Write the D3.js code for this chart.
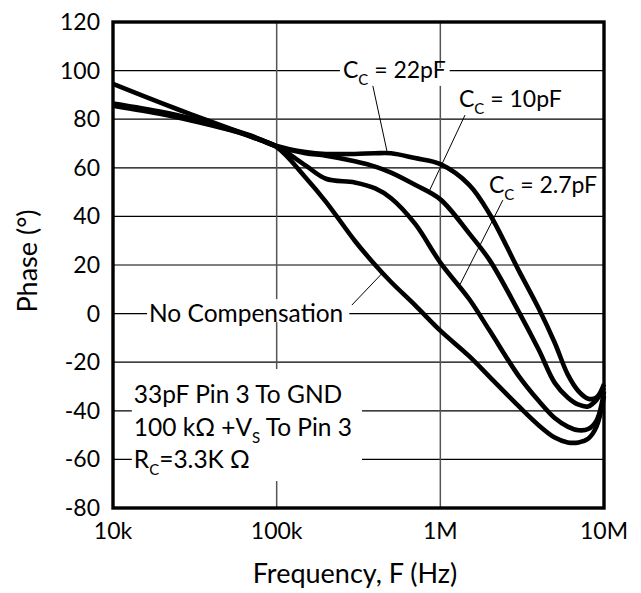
<!DOCTYPE html>
<html>
<head>
<meta charset="utf-8">
<script src="https://cdn.jsdelivr.net/npm/d3@7"></script>
<style>
body { margin: 0; background: #fff; }
svg text { font-family: Lato, "Open Sans", sans-serif; fill: #000; }
</style>
</head>
<body>
<svg id="chart" width="641" height="593"></svg>
<script>
// phase values, one entry per frequency
var frequencies = [1e4, 2e4, 3e4, 5e4, 7e4, 1e5, 1.5e5, 2e5, 3e5, 4e5, 5e5, 7e5, 1e6, 1.5e6, 2e6, 3e6, 4e6, 5e6, 6e6, 7e6, 8e6, 9e6, 1e7];
var phaseNoComp = [94.5, 86.5, 82, 76.5, 72.7, 68.5, 56, 46, 30, 20, 13, 3.5, -7, -17.5, -26, -38, -46, -51, -53, -53, -51.5, -46.5, -34];
var phaseCc2p7 = [85.5, 82, 79.5, 75.8, 72.8, 68.8, 61, 55.5, 54, 51.5, 47.5, 37, 21, 6, -7, -25.5, -36, -43, -46.5, -48, -47.5, -44, -32];
var phaseCc10 = [86, 82.5, 80, 76, 73, 68.8, 66, 65, 62.7, 60.5, 58, 53, 47, 33, 22, 1, -15, -28.5, -34.5, -37.5, -38.2, -35.5, -30.5];
var phaseCc22 = [86.5, 83, 80.3, 76.3, 73.2, 69, 66.5, 65.7, 65.7, 66, 66, 64, 61.5, 53, 41, 18, 2, -12, -25, -32, -35, -34.5, -29];

var xTickValues = [1e4, 1e5, 1e6, 1e7];
var xTickLabels = ["10k", "100k", "1M", "10M"];
var yTickValues = [-80, -60, -40, -20, 0, 20, 40, 60, 80, 100, 120];

var series = [phaseNoComp, phaseCc2p7, phaseCc10, phaseCc22];

// callout labels: text parts (sub = subscript), anchor and leader in data units
var callouts = [
    {parts: [["C"], ["C", "sub"], [" = 22pF"]], at: [2.54e5, 97], leader: [[3.87e5, 93.7], [4.75e5, 66]], box: [-13, 4, -2, 3], size: 23},
    {parts: [["C"], ["C", "sub"], [" = 10pF"]], at: [1.30e6, 85], leader: [[1.415e6, 81.7], [8.5e5, 50]], size: 23},
    {parts: [["C"], ["C", "sub"], [" = 2.7pF"]], at: [1.98e6, 49.6], leader: [[2.41e6, 46.7], [1.32e6, 12]], size: 23},
    {parts: [["No Compensation"]], at: [1.66e4, -3.5], leader: [[2.88e5, 3.5], [4.4e5, 16.5]], box: [-1, 6, -5, 2], size: 24.5}
];
var noteLines = [
    [["33pF Pin 3 To GND"]],
    [["100 k\u03A9 +V"], ["S", "sub"], [" To Pin 3"]],
    [["R"], ["C", "sub"], ["=3.3K \u03A9"]]
];
var noteAt = [1.34e4, -36.8];

var svg = d3.select("#chart");
var width = 641, height = 593;
const margins = {top: 22, right: 37, bottom: 85, left: 113};

var x = d3.scaleLog().domain([1e4, 1e7]).range([margins.left, width - margins.right]);
var y = d3.scaleLinear().domain([-80, 120]).range([height - margins.bottom, margins.top]);

var gridG = svg.append("g");
var boxG = svg.append("g");
var curveG = svg.append("g");
var leaderG = svg.append("g");
var textG = svg.append("g");
var frameG = svg.append("g");

// grid
gridG.selectAll("line.h")
    .data(yTickValues.slice(1, -1)).enter()
    .append("line").attr("class", "h")
    .attr("x1", margins.left).attr("x2", width - margins.right)
    .attr("y1", d => y(d)).attr("y2", d => y(d))
    .attr("stroke", "#000").attr("stroke-width", 1.2);
gridG.selectAll("line.v")
    .data(xTickValues.slice(1, -1)).enter()
    .append("line").attr("class", "v")
    .attr("y1", margins.top).attr("y2", height - margins.bottom)
    .attr("x1", d => x(d)).attr("x2", d => x(d))
    .attr("stroke", "#555").attr("stroke-width", 1.5);

// curves
var line = d3.line()
    .x((d, i) => x(frequencies[i]))
    .y(d => y(d))
    .curve(d3.curveCatmullRom.alpha(0.5));
curveG.selectAll("path")
    .data(series).enter()
    .append("path")
    .attr("fill", "none")
    .attr("stroke", "#000")
    .attr("stroke-width", 4.6)
    .attr("stroke-linejoin", "round")
    .attr("d", d => line(d));

function writeParts(textSel, parts) {
    var shifted = false;
    parts.forEach(function(p) {
        var t = textSel.append("tspan").text(p[0]);
        if (p[1] == "sub") {
            t.attr("font-size", 15).attr("dy", 7);
            shifted = true;
        } else if (shifted) {
            t.attr("dy", -7);
            shifted = false;
        }
    });
}

function addBox(node, pad) {
    var b = node.getBBox();
    boxG.append("rect")
        .attr("x", b.x - pad[3])
        .attr("y", b.y - pad[0])
        .attr("width", b.width + pad[1] + pad[3])
        .attr("height", b.height + pad[0] + pad[2])
        .attr("fill", "#fff");
}

// callouts
callouts.forEach(function(c) {
    leaderG.append("line")
        .attr("x1", x(c.leader[0][0])).attr("y1", y(c.leader[0][1]))
        .attr("x2", x(c.leader[1][0])).attr("y2", y(c.leader[1][1]))
        .attr("stroke", "#000").attr("stroke-width", 1);
    var t = textG.append("text")
        .attr("x", x(c.at[0])).attr("y", y(c.at[1]))
        .attr("font-size", c.size);
    writeParts(t, c.parts);
    if (c.box) addBox(t.node(), c.box);
});

// test-condition note
var noteG = textG.append("g");
noteLines.forEach(function(parts, i) {
    var t = noteG.append("text")
        .attr("x", x(noteAt[0]))
        .attr("y", y(noteAt[1]) + i * 32.5)
        .attr("font-size", 24.5);
    writeParts(t, parts);
});
addBox(noteG.node(), [10, 10, 3, 2]);

// frame
frameG.append("rect")
    .attr("x", margins.left).attr("y", margins.top)
    .attr("width", width - margins.left - margins.right)
    .attr("height", height - margins.top - margins.bottom)
    .attr("fill", "none").attr("stroke", "#000").attr("stroke-width", 3.4);

// tick labels
frameG.selectAll("text.ytick")
    .data(yTickValues).enter()
    .append("text").attr("class", "ytick")
    .attr("x", margins.left - 13)
    .attr("y", d => y(d))
    .attr("dy", "0.35em")
    .attr("text-anchor", "end")
    .attr("font-size", 23)
    .text(d => d);
frameG.selectAll("text.xtick")
    .data(xTickValues).enter()
    .append("text").attr("class", "xtick")
    .attr("x", d => x(d))
    .attr("y", height - margins.bottom + 31)
    .attr("text-anchor", "middle")
    .attr("font-size", 23)
    .text((d, i) => xTickLabels[i]);

// axis titles
svg.append("text")
    .attr("x", 355)
    .attr("y", 583)
    .attr("text-anchor", "middle")
    .attr("font-size", 27)
    .text("Frequency, F (Hz)");
svg.append("text")
    .attr("transform", "translate(37," + 261 + ") rotate(-90)")
    .attr("text-anchor", "middle")
    .attr("font-size", 27)
    .text("Phase (\u00B0)");
</script>
</body>
</html>
